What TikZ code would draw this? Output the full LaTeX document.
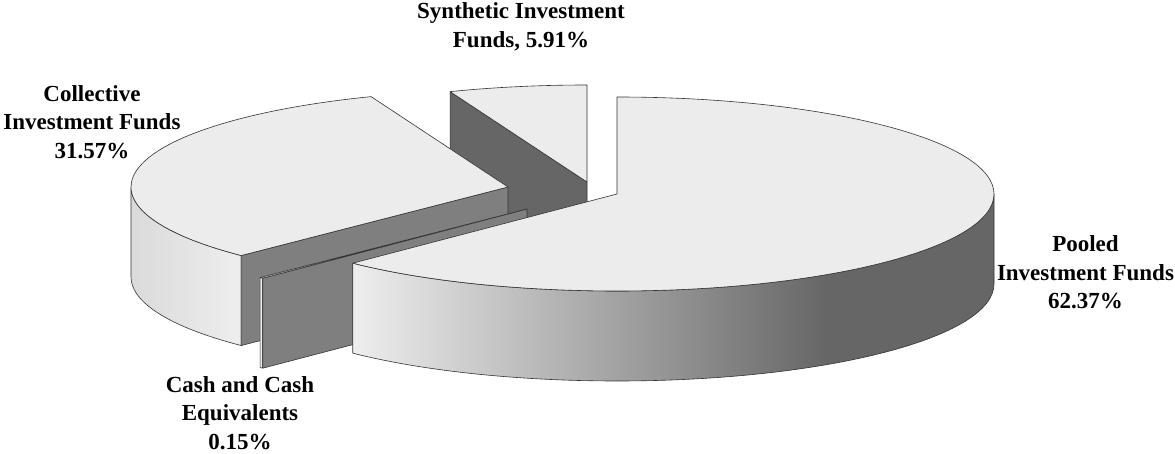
\documentclass[tikz,border=0pt]{standalone}
\usepackage{fontspec}
\setmainfont{Liberation Serif}
\usepackage{xcolor}
\usepackage{tikz}
\usetikzlibrary{calc}

\definecolor{topgray}{HTML}{ECECEC}
\definecolor{cutgray}{HTML}{7F7F7F}
\definecolor{cutdark}{HTML}{666666}
\definecolor{sidelight}{HTML}{EEEEEE}
\definecolor{sidemid}{HTML}{DADADA}
\definecolor{edgegray}{HTML}{333333}
\pgfdeclarehorizontalshading{pooledside}{100bp}{color(0bp)=(sidelight); color(25bp)=(sidelight); color(62bp)=(cutdark); color(100bp)=(cutdark)}

\begin{document}
\begin{tikzpicture}[x = 1pt, y = 1pt, line join = round,
        pieedge/.style = {draw = edgegray, line width = 0.6pt},
        topface/.style = {pieedge, fill = topgray},
        cutface/.style = {pieedge, fill = cutgray},
        lbl/.style = {align = center, inner sep = 0pt, font = \fontsize{23}{28.5}\selectfont\bfseries}]
        \useasboundingbox (0, 0) rectangle (1175, 453);
        % slice centres (top) and their bottoms
        \coordinate (s) at (587, 271);
        \coordinate (sb) at (587, 181);
        \coordinate (c) at (508, 266);
        \coordinate (cb) at (508, 176);
        \coordinate (k) at (527, 244);
        \coordinate (kb) at (527, 154);
        \coordinate (p) at (617, 259);
        % synthetic
        \draw [cutface, fill = cutdark] (s) -- ++(111.3: 377 and 97) -- ++(0, -90) -- (sb) -- cycle;
        \draw [topface] (s) -- ++(90: 377 and 97) arc (90: 111.3: 377 and 97) -- cycle;
        % collective
        \shadedraw [pieedge, left color = sidemid, right color = sidelight] ($(c) + (180: 377 and 97)$) arc (180: 224.95: 377 and 97) -- ++(0, -90) arc (224.95: 180: 377 and 97) -- cycle;
        \draw [cutface] (c) -- ++(224.95: 377 and 97) -- ++(0, -90) -- (cb) -- cycle;
        \draw [topface] (c) -- ++(111.3: 377 and 97) arc (111.3: 224.95: 377 and 97) -- cycle;
        % cash
        \draw [pieedge, fill = sidelight] ($(k) + (224.95: 377 and 97)$) arc (224.95: 225.5: 377 and 97) -- ++(0, -90) arc (225.5: 224.95: 377 and 97) -- cycle;
        \draw [cutface] (k) -- ++(225.5: 377 and 97) -- ++(0, -90) -- (kb) -- cycle;
        \draw [topface] (k) -- ++(224.95: 377 and 97) arc (224.95: 225.5: 377 and 97) -- cycle;
        % pooled
        \shadedraw [pieedge, shading = pooledside] ($(p) + (-134.5: 377 and 97)$) arc (-134.5: 0: 377 and 97) -- ++(0, -90) arc (0: -134.5: 377 and 97) -- cycle;
        \draw [topface] (p) -- ++(90: 377 and 97) arc (90: -134.5: 377 and 97) -- cycle;
        % labels
        \node (synth) at (521, 426.3) [lbl] {Synthetic Investment\\Funds, 5.91\%};
        \node (coll) at (92, 331) [lbl] {Collective\\Investment Funds\\31.57\%};
        \node (pool) at (1085.5, 180.7) [lbl] {Pooled\\Investment Funds\\62.37\%};
        \node (cash) at (240, 40.3) [lbl] {Cash and Cash\\Equivalents\\0.15\%};
    \end{tikzpicture}
\end{document}
